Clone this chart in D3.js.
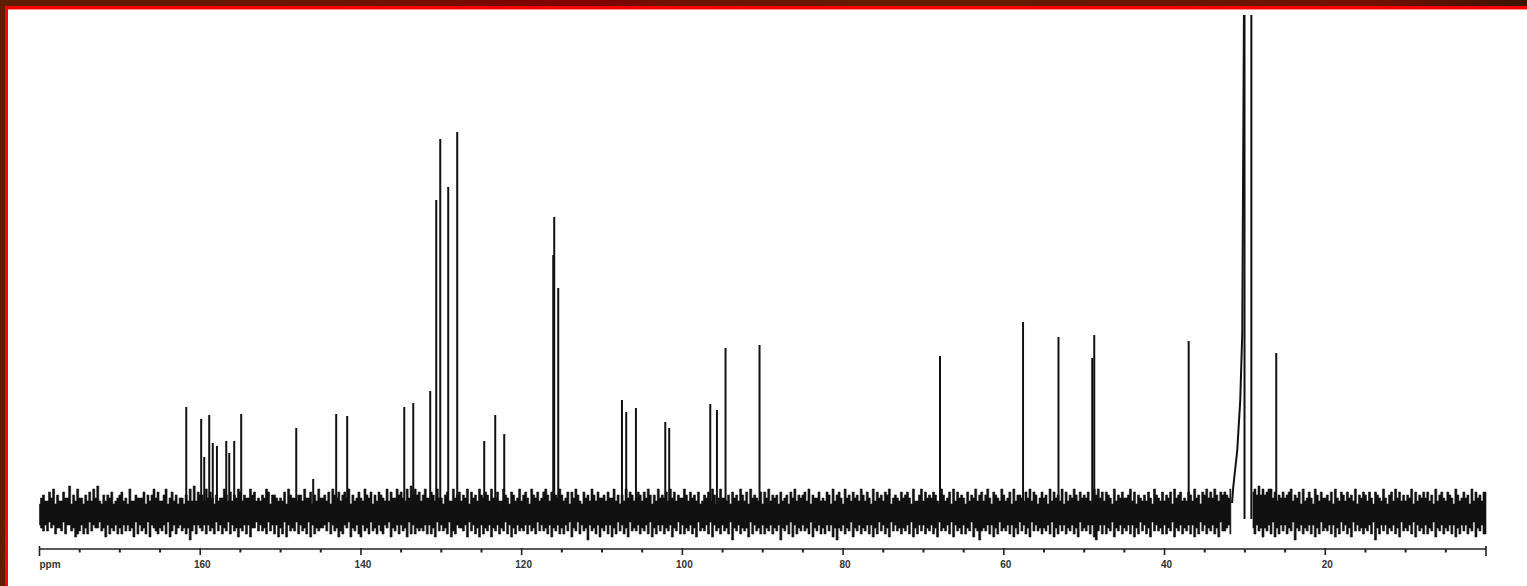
<!DOCTYPE html>
<html>
<head>
<meta charset="utf-8">
<script src="https://cdn.jsdelivr.net/npm/d3@7"></script>
<style>
    body { margin: 0; background: #fff; }
    svg { display: block; }
</style>
</head>
<body>
<script>
// peak positions (ppm) and heights
let peakShift = [161.74, 159.88, 159.5, 158.88, 158.44, 157.92, 156.76, 156.39, 155.77, 154.90,
    148.05, 145.94, 143.08, 141.71, 134.61, 133.49, 131.38, 130.63, 130.13, 129.14,
    128.02, 124.66, 123.29, 122.17, 116.07, 115.95, 115.45, 107.52, 106.99, 105.78,
    102.13, 101.64, 96.53, 95.70, 94.63, 90.40, 67.94, 57.61, 53.20, 49.00,
    48.75, 37.00, 30.05, 29.20, 26.10];
let peakHeight = [106, 94, 56, 98, 70, 67, 72, 60, 72, 99,
    85, 34, 99, 97, 106, 110, 122, 313, 374, 326,
    381, 72, 98, 79, 258, 296, 225, 113, 101, 105,
    91, 85, 109, 103, 165, 168, 157, 191, 176, 155,
    178, 172, 560, 560, 160];

// broad left flank of the solvent line
let solventShift = [31.6, 31.45, 30.95, 30.58, 30.33, 30.08];
let solventHeight = [10, 26, 63, 113, 180, 560];

// baseline noise, one digit every 0.25 ppm from 180 ppm down ("-" = no trace)
let noiseUp = [
    "3564475836 4475593648 5536474859 4364657345 6745384465 5573646857 4468357463 5536484947",
    "6648575364 5586474658 7465586745 4658736654 5473865546 6485573648 5564738657 4675836457",
    "5486573647 6548475586 7548596867 4685576485 5367448567 4658375648 6576485574 4865376458",
    "4675386574 5786475658 6457375864 3756486475 5647558463 6485764576 4758636485 6574857465",
    "5864756473 4657486358 5546375648 6473856547 3758465637 4563758465 6748365574 5476384675",
    "3856475648 6475384756 4768356547 5675384468 4756576438 6457384756 5374658467 4685376548",
    "6457384665 4758476357 5638475648 3746586475 6574386857 4765384657 5568473654 6475386547",
    "4657385674 5476485637 6857586476 7658------ ----786968 6788574657 5678465738 4575386475",
    "5647385476 4756483657 6475376548 5367485746 4658374657 5746384675 4765386457 5638475647"
];
let noiseDown = [
    "4564635475 5637446587 6475736455 3658475647 5746465837 4657384567 5647386475 4657596474",
    "5647465736 4756374658 5647485536 4657364748 5738465637 4657384756 5546374658 6745385647",
    "8465736574 6745385647 4658374756 5647475836 4657386745 5648364758 4756485647 5637485746",
    "5647465736 4657485647 5746385637 4659465748 5647485736 4758365647 5647385746 4756485637",
    "4756475836 5647384657 4657395647 5658374657 4756475649 5647384756 4657385647 5746485956",
    "4756385647 5647485736 4758364657 5647385746 4756475836 5647384657 4756385696 5647485736",
    "5647485736 4758364657 5647385746 4756475836 5647489647 4756385647 5647485736 4758364657",
    "4756385647 5647485736 4756475836 6547------ ----574658 5647385746 4756395647 5647485736",
    "5647485736 4758364657 5647395746 4756475836 5647384657 4756385647 5647485746 4756385647"
];

let majorTicks = [160, 140, 120, 100, 80, 60, 40, 20];
let axisUnit = "ppm";

run();

function run() {
    let width = 1527;
    let height = 586;

    let svg = d3.select("body")
        .append("svg")
        .attr("width", width)
        .attr("height", height);

    drawFrame(svg, width, height);

    let x = d3.scaleLinear().domain([180, 0]).range([39.5, 1486]);
    let y = d3.scaleLinear().domain([0, 500]).range([513, 13]);

    svg.append("clipPath")
        .attr("id", "plot")
        .append("rect")
        .attr("x", 30).attr("y", 15)
        .attr("width", 1470).attr("height", 540);

    let g = svg.append("g").attr("clip-path", "url(#plot)");

    drawNoise(g, x, y);
    drawPeaks(g, x, y);
    drawAxis(svg, x);
}

function drawFrame(svg, width, height) {
    let grad = svg.append("defs")
        .append("linearGradient")
        .attr("id", "band");
    let stops = [[0, "#5e1e00"], [0.2, "#6a1800"], [0.33, "#7a0800"], [0.38, "#820000"],
        [0.45, "#6e1400"], [0.6, "#621e00"], [0.8, "#6a1600"], [0.9, "#731000"], [1, "#3a1400"]];
    stops.forEach(function (s) {
        grad.append("stop").attr("offset", s[0]).attr("stop-color", s[1]);
    });

    svg.append("rect")
        .attr("width", width).attr("height", 6)
        .attr("fill", "url(#band)");
    svg.append("rect")
        .attr("y", 6)
        .attr("width", 5).attr("height", height)
        .attr("fill", "#5c1f00");
    svg.append("path")
        .attr("d", "M0,512 Q10,532 3,562")
        .attr("fill", "none")
        .attr("stroke", "#5c1f00")
        .attr("stroke-width", 3);

    svg.append("line")
        .attr("x1", 5).attr("x2", width)
        .attr("y1", 7.5).attr("y2", 7.5)
        .attr("stroke", "#ff0000").attr("stroke-width", 3);
    svg.append("line")
        .attr("x1", 6.5).attr("x2", 6.5)
        .attr("y1", 6).attr("y2", height)
        .attr("stroke", "#ff0000").attr("stroke-width", 3);
    svg.append("line")
        .attr("x1", 8).attr("x2", width)
        .attr("y1", 9.5).attr("y2", 9.5)
        .attr("stroke", "#ff9090").attr("stroke-width", 1);
}

function drawNoise(g, x, y) {
    let step = 3;
    let up = noiseUp.join("").replace(/\s/g, "");
    let down = noiseDown.join("").replace(/\s/g, "");
    let samples = [];
    for (let i = 0; i < up.length; i++) {
        let ok = up[i] !== "-" && down[i] !== "-";
        samples.push({
            ppm: 180 - i * 0.25,
            up: ok ? +up[i] * step : null,
            down: ok ? +down[i] * step : null
        });
    }
    let last = samples[samples.length - 1];
    samples.push({ ppm: 0, up: last.up, down: last.down });

    let area = d3.area()
        .defined(function (d) { return d.up !== null; })
        .x(function (d) { return x(d.ppm); })
        .y0(function (d) { return y(-d.down); })
        .y1(function (d) { return y(d.up); })
        .curve(d3.curveStep);

    g.append("path")
        .datum(samples)
        .attr("d", area)
        .attr("fill", "#111")
        .attr("stroke", "#111")
        .attr("stroke-width", 0.6);
}

function drawPeaks(g, x, y) {
    let peaks = peakShift.map(function (p, i) {
        return { ppm: p, h: peakHeight[i] };
    });

    g.selectAll(".peak")
        .data(peaks)
        .enter()
        .append("line")
        .attr("class", "peak")
        .attr("x1", function (d) { return x(d.ppm); })
        .attr("x2", function (d) { return x(d.ppm); })
        .attr("y1", y(-6))
        .attr("y2", function (d) { return y(d.h); })
        .attr("stroke", "#111")
        .attr("stroke-width", 2);

    let flank = solventShift.map(function (p, i) {
        return [x(p), y(solventHeight[i])];
    });
    g.append("path")
        .attr("d", d3.line()(flank))
        .attr("fill", "none")
        .attr("stroke", "#111")
        .attr("stroke-width", 2);
}

function drawAxis(svg, x) {
    let axisY = 549;
    let minor = d3.range(5, 180, 5).filter(function (v) { return majorTicks.indexOf(v) < 0; });

    let ax = svg.append("g").attr("transform", "translate(0," + axisY + ")");

    ax.append("line")
        .attr("x1", x(180)).attr("x2", x(0))
        .attr("stroke", "#222").attr("stroke-width", 1.6);

    ax.selectAll(".minor")
        .data(minor)
        .enter()
        .append("line")
        .attr("x1", function (d) { return x(d); })
        .attr("x2", function (d) { return x(d); })
        .attr("y1", 0).attr("y2", 3.5)
        .attr("stroke", "#222").attr("stroke-width", 2);

    ax.selectAll(".major")
        .data(majorTicks)
        .enter()
        .append("line")
        .attr("x1", function (d) { return x(d); })
        .attr("x2", function (d) { return x(d); })
        .attr("y1", -1).attr("y2", 6)
        .attr("stroke", "#222").attr("stroke-width", 1.6);

    ax.selectAll(".end")
        .data([180, 0])
        .enter()
        .append("line")
        .attr("x1", function (d) { return x(d); })
        .attr("x2", function (d) { return x(d); })
        .attr("y1", -3).attr("y2", 7)
        .attr("stroke", "#222").attr("stroke-width", 1.6);

    ax.selectAll(".label")
        .data(majorTicks)
        .enter()
        .append("text")
        .attr("x", function (d) { return x(d) + 2; })
        .attr("y", 19)
        .attr("text-anchor", "middle")
        .attr("font-family", "Liberation Sans, Arial, sans-serif")
        .attr("font-weight", "bold")
        .attr("font-size", "10px")
        .attr("fill", "#333")
        .text(function (d) { return d; });

    ax.append("text")
        .attr("x", x(180))
        .attr("y", 19)
        .attr("font-family", "Liberation Sans, Arial, sans-serif")
        .attr("font-weight", "bold")
        .attr("font-size", "10px")
        .attr("fill", "#333")
        .text(axisUnit);
}
</script>
</body>
</html>
